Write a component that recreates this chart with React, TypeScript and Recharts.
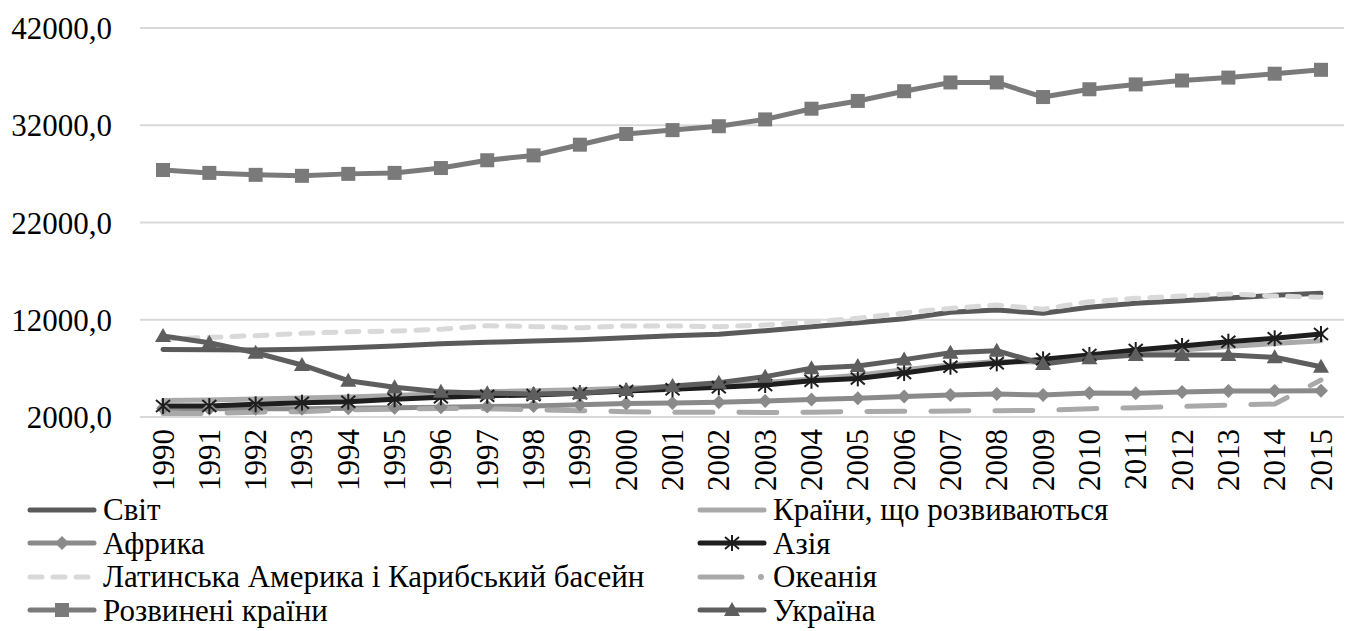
import React from 'react';
import { LineChart, Line, XAxis, YAxis, CartesianGrid } from 'recharts';

const years = [
  '1990', '1991', '1992', '1993', '1994', '1995', '1996', '1997', '1998', '1999', '2000', '2001', '2002',
  '2003', '2004', '2005', '2006', '2007', '2008', '2009', '2010', '2011', '2012', '2013', '2014', '2015',
];

const world = [
  8950, 8920, 8890, 8960, 9130, 9300, 9540, 9680, 9810, 9950, 10150, 10360, 10500,
  10870, 11290, 11700, 12100, 12770, 13000, 12660, 13280, 13690, 13960, 14240, 14510, 14720,
];
const developing = [
  3700, 3750, 3850, 3950, 4050, 4200, 4400, 4600, 4700, 4800, 4950, 5100, 5300,
  5550, 5900, 6300, 6850, 7350, 7700, 7650, 8100, 8500, 8900, 9250, 9550, 9850,
];
const africa = [
  2900, 2850, 2850, 2850, 2900, 2950, 3000, 3080, 3130, 3250, 3400, 3450, 3520,
  3650, 3800, 3920, 4120, 4260, 4370, 4260, 4480, 4440, 4580, 4680, 4680, 4700,
];
const asia = [
  3130, 3130, 3300, 3470, 3570, 3820, 4030, 4190, 4260, 4440, 4670, 4850, 5050,
  5290, 5730, 5970, 6520, 7170, 7520, 7930, 8380, 8890, 9300, 9740, 10090, 10530,
];
const latinAmerica = [
  9990, 10190, 10360, 10600, 10770, 10840, 11020, 11390, 11290, 11180, 11360, 11360, 11290,
  11460, 11800, 12150, 12700, 13170, 13520, 13080, 13860, 14200, 14440, 14650, 14440, 14310,
];
const oceania = [
  2350, 2350, 2500, 2550, 2750, 2800, 2880, 2850, 2750, 2650, 2550, 2500, 2500,
  2450, 2500, 2550, 2580, 2620, 2650, 2680, 2850, 2950, 3080, 3230, 3330, 5800,
];
const developed = [
  27400, 27100, 26900, 26800, 27000, 27100, 27600, 28400, 28900, 30000, 31100, 31500, 31900,
  32600, 33700, 34500, 35500, 36400, 36400, 34900, 35700, 36200, 36600, 36900, 37300, 37700,
];
const ukraine = [
  10330, 9640, 8610, 7350, 5730, 5050, 4600, 4440, 4370, 4440, 4780, 5190, 5530,
  6150, 7010, 7250, 7900, 8610, 8820, 7450, 8030, 8380, 8380, 8380, 8140, 7170,
];

const yTicks = [2000, 12000, 22000, 32000, 42000];

type Marker = 'none' | 'diamond' | 'star' | 'square' | 'triangle';

interface Series {
  key: string;
  name: string;
  values: number[];
  color: string;
  dash?: string;
  marker: Marker;
}

const series: Series[] = [
  { key: 'world', name: 'Світ', values: world, color: '#5a5a5a', marker: 'none' },
  { key: 'developing', name: 'Країни, що розвиваються', values: developing, color: '#a9a9a9', marker: 'none' },
  { key: 'africa', name: 'Африка', values: africa, color: '#8a8a8a', marker: 'diamond' },
  { key: 'asia', name: 'Азія', values: asia, color: '#1e1e1e', marker: 'star' },
  { key: 'latin', name: 'Латинська Америка і Карибський басейн', values: latinAmerica, color: '#d9d9d9', dash: '12 11', marker: 'none' },
  { key: 'oceania', name: 'Океанія', values: oceania, color: '#a9a9a9', dash: '38 26', marker: 'none' },
  { key: 'developed', name: 'Розвинені країни', values: developed, color: '#7a7a7a', marker: 'square' },
  { key: 'ukraine', name: 'Україна', values: ukraine, color: '#5e5e5e', marker: 'triangle' },
];

const data = years.map((year, i) => {
  const row: Record<string, number | string> = { year };
  series.forEach((s) => {
    row[s.key] = s.values[i];
  });
  return row;
});

const FONT = '"Liberation Serif", "Times New Roman", serif';

const MarkerShape = ({ type, cx, cy, color }: { type: Marker; cx: number; cy: number; color: string }) => {
  if (type === 'square') {
    return <rect x={cx - 7} y={cy - 7} width={14} height={14} fill={color} />;
  }
  if (type === 'diamond') {
    return <polygon points={`${cx},${cy - 7} ${cx + 7},${cy} ${cx},${cy + 7} ${cx - 7},${cy}`} fill={color} />;
  }
  if (type === 'triangle') {
    return <polygon points={`${cx},${cy - 8} ${cx + 8},${cy + 6} ${cx - 8},${cy + 6}`} fill={color} />;
  }
  if (type === 'star') {
    return (
      <g stroke={color} strokeWidth={2}>
        <line x1={cx} y1={cy - 8} x2={cx} y2={cy + 8} />
        <line x1={cx - 7} y1={cy - 6} x2={cx + 7} y2={cy + 6} />
        <line x1={cx - 7} y1={cy + 6} x2={cx + 7} y2={cy - 6} />
      </g>
    );
  }
  return null;
};

// rotated year labels, hanging down from just under the plot
const XTick = (props: any) => {
  const { x, y, payload } = props;
  return (
    <text
      x={x}
      y={y}
      transform={`rotate(-90, ${x}, ${y})`}
      textAnchor="end"
      dominantBaseline="central"
      fill="#000"
      fontSize={31}
      fontFamily={FONT}
    >
      {payload.value}
    </text>
  );
};

const LegendIcon = ({ s }: { s: Series }) => (
  <svg width={70} height={20} style={{ display: 'block' }}>
    {s.key === 'oceania' ? (
      <>
        <line x1={3} y1={10} x2={45} y2={10} stroke={s.color} strokeWidth={5} strokeLinecap="round" />
        <circle cx={64} cy={10} r={3} fill={s.color} />
      </>
    ) : (
      <line
        x1={3}
        y1={10}
        x2={67}
        y2={10}
        stroke={s.color}
        strokeWidth={5}
        strokeLinecap="round"
        strokeDasharray={s.dash}
      />
    )}
    <MarkerShape type={s.marker} cx={35} cy={10} color={s.color} />
  </svg>
);

const ChartLegend = () => {
  const left = series.filter((_, i) => i % 2 === 0);
  const right = series.filter((_, i) => i % 2 === 1);
  const column = (items: Series[], x: number) => (
    <div style={{ position: 'absolute', left: x, top: 493 }}>
      {items.map((s) => (
        <div key={s.key} style={{ display: 'flex', alignItems: 'center', height: 33.5 }}>
          <LegendIcon s={s} />
          <span style={{ marginLeft: 6, fontFamily: FONT, fontSize: 31, color: '#000', whiteSpace: 'nowrap', lineHeight: '33px' }}>
            {s.name}
          </span>
        </div>
      ))}
    </div>
  );
  return (
    <>
      {column(left, 27)}
      {column(right, 697)}
    </>
  );
};

export default function App() {
  return (
    <div style={{ position: 'absolute', left: 0, top: 0, width: 1349, height: 631, background: '#fff', overflow: 'hidden' }}>
      <LineChart width={1349} height={631} data={data} margin={{ top: 28, right: 5, bottom: 144, left: 0 }}>
        <CartesianGrid vertical={false} stroke="#d9d9d9" strokeWidth={2} />
        <XAxis
          dataKey="year"
          height={70}
          axisLine={false}
          tickLine={false}
          tickSize={0}
          tickMargin={12}
          interval={0}
          padding={{ left: 23, right: 23 }}
          tick={<XTick />}
        />
        <YAxis
          width={140}
          domain={[2000, 42000]}
          ticks={yTicks}
          axisLine={false}
          tickLine={false}
          tickSize={0}
          tickMargin={28}
          tickFormatter={(v: number) => v.toFixed(1).replace('.', ',')}
          tick={{ fill: '#000', fontSize: 31, fontFamily: FONT }}
        />
        {series.map((s) => (
          <Line
            key={s.key}
            dataKey={s.key}
            name={s.name}
            type="linear"
            stroke={s.color}
            strokeWidth={5}
            strokeDasharray={s.dash}
            strokeLinecap="round"
            strokeLinejoin="round"
            isAnimationActive={false}
            activeDot={false}
            dot={
              s.marker === 'none'
                ? false
                : (p: any) => <MarkerShape key={`${s.key}-${p.index}`} type={s.marker} cx={p.cx} cy={p.cy} color={s.color} />
            }
          />
        ))}
      </LineChart>
      <ChartLegend />
    </div>
  );
}
